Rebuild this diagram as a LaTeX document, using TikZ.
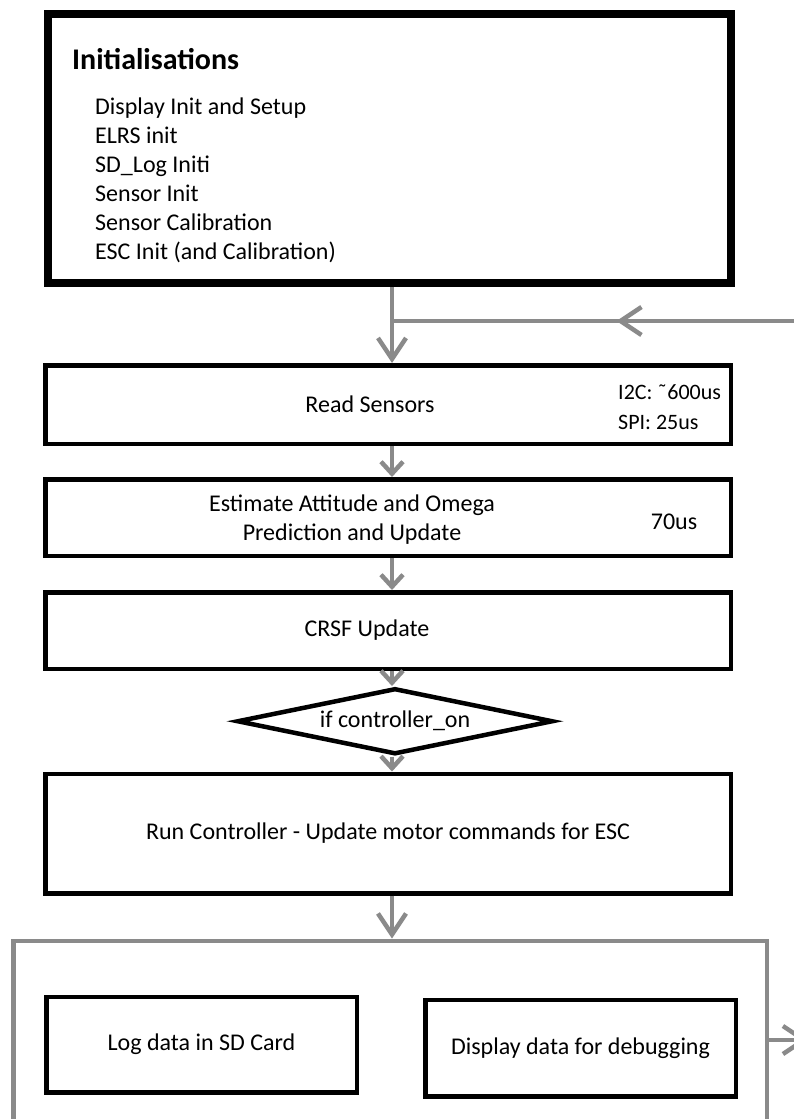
\documentclass[tikz,border=0pt]{standalone}
\usepackage{fontspec}
\setmainfont{Carlito}
\usepackage{tikz}
\usetikzlibrary{positioning,arrows.meta,shapes.geometric,decorations.markings}
\definecolor{flowgray}{RGB}{138,138,138}

\begin{document}
\begin{tikzpicture}[x=1pt,y=1pt,font=\fontsize{24}{29}\selectfont,
    stage/.style={draw=black,line width=4.5pt,minimum width=685.5pt,inner sep=0pt},
    flow/.style={draw=flowgray,line width=4.5pt,-{Straight Barb[length=12pt,width=22pt]}},
    longflow/.style={draw=flowgray,line width=4.5pt,-{Straight Barb[length=21pt,width=28pt]}}]
      \useasboundingbox (0,0) rectangle (794,-1119);
      \clip (0,0) rectangle (794,-1119);
      \coordinate (spine) at (392,0);
      \coordinate (loopin) at (800,-321);
      \coordinate (exit) at (808,-1040);

      \node[draw=black,line width=8pt,minimum width=683pt,minimum height=269pt,inner sep=0pt]
      (init) at (389.5,-148.5) {};
      \node[anchor=north west,align=flush left,inner sep=0pt] (initlist)
      at ([xshift=28pt,yshift=-38.5pt]init.north west)
      {{\fontsize{30}{36}\selectfont\bfseries Initialisations}\\[16pt]
       \hspace*{23pt}Display Init and Setup\\
       \hspace*{23pt}ELRS init\\
       \hspace*{23pt}SD\_Log Initi\\
       \hspace*{23pt}Sensor Init\\
       \hspace*{23pt}Sensor Calibration\\
       \hspace*{23pt}ESC Init (and Calibration)};

      \node[stage,minimum height=78.5pt] (read) at (388,-404.5) {};
      \node (readlabel) at ([xshift=-18pt]read.center) {Read Sensors};
      \node[anchor=west,align=flush left,inner sep=0pt,font=\fontsize{22}{30}\selectfont] (readtime)
      at ([xshift=-115pt,yshift=-2.5pt]read.east) {I2C: \char"02DC 600us\\SPI: 25us};

      \node[stage,minimum height=76.5pt,below=31pt of read] (est) {};
      \node[align=flush center] (estlabel) at ([xshift=-36pt,yshift=-2pt]est.center)
      {Estimate Attitude and Omega\\Prediction and Update};
      \node (esttime) at ([xshift=-59pt,yshift=-4.5pt]est.east) {70us};

      \node[stage,minimum height=76.5pt,below=32pt of est] (crsf) {};
      \node (crsflabel) at ([xshift=-21pt]crsf.center) {CRSF Update};

      \node[diamond,draw=black,line width=4.5pt,minimum width=316pt,minimum height=66pt,
            aspect=4.8,inner sep=0pt,below=15pt of crsf,xshift=7pt] (cond) {if controller\_on};

      \node[stage,minimum height=119.5pt,below=15pt of cond,xshift=-7pt] (run)
      {Run Controller - Update motor commands for ESC};

      % outputs frame runs off the page
      \node[draw=flowgray,line width=4.5pt,minimum width=753.5pt,minimum height=300pt,
            inner sep=0pt,below=43pt of run,xshift=2pt] (outputs) {};
      \node[stage,minimum width=310.5pt,minimum height=95.5pt,
            below right=56pt and 33pt of outputs.north west] (logsd) {Log data in SD Card};
      \node[stage,minimum width=310.5pt,minimum height=96.5pt,right=64pt of logsd,yshift=-3.5pt]
      (display) {Display data for debugging};

      \draw[longflow] (init.south -| spine) -- (read.north -| spine);
      \draw[flowgray,line width=4.5pt,postaction={decorate},
            decoration={markings,mark=at position 0.45 with {\arrow{Straight Barb[length=21pt,width=28pt]}}}]
            (loopin) -- (loopin -| spine);
      \draw[flow] (read.south -| spine) -- (est.north -| spine);
      \draw[flow] (est.south -| spine) -- (crsf.north -| spine);
      \draw[flow] (crsf.south -| spine) -- (cond.north -| spine);
      \draw[flow] (cond.south -| spine) -- (run.north -| spine);
      \draw[longflow] (run.south -| spine) -- (outputs.north -| spine);
      \draw[longflow] (exit -| outputs.east) -- (exit);
      %\draw (logsd) -- (display);
\end{tikzpicture}
\end{document}
